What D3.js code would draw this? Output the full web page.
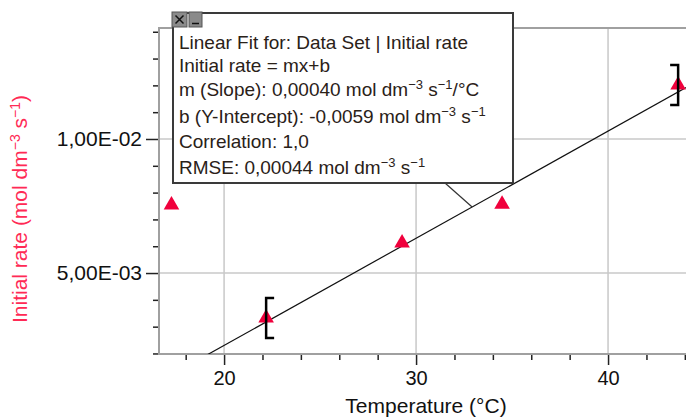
<!DOCTYPE html>
<html>
<head>
<meta charset="utf-8">
<script src="https://cdn.jsdelivr.net/npm/d3@7"></script>
<style>
	body { margin: 0; background: #fff; }
	svg { display: block; font-family: Arial, "Liberation Sans", sans-serif; }
</style>
</head>
<body>
<svg id="chart" width="686" height="419"></svg>
<script>
// values
var temperature = [17.26, 22.19, 29.27, 34.48, 43.65];
var initialRate = [0.00754, 0.00332, 0.00612, 0.00757, 0.01201];
var fitRange = [22.19, 43.65];
var leaderTemp = 32.92;

var xTicks = [20, 30, 40];
var xTickLabels = ["20", "30", "40"];
var xMinor = [18, 22, 24, 26, 28, 32, 34, 36, 38, 42, 44];
var yTicks = [0.005, 0.01];
var yTickLabels = ["5,00E-03", "1,00E-02"];
var yMinor = [0.002, 0.003, 0.004, 0.006, 0.007, 0.008, 0.009, 0.011, 0.012, 0.013, 0.014];

// lines of the fit box : [text, superscript?]
var fitText = [
	[["Linear Fit for: Data Set | Initial rate", 0]],
	[["Initial rate = mx+b", 0]],
	[["m (Slope): 0,00040 mol dm", 0], ["\u22123", 1], [" s", 0], ["\u22121", 1], ["/°C", 0]],
	[["b (Y-Intercept): -0,0059 mol dm", 0], ["\u22123", 1], [" s", 0], ["\u22121", 1]],
	[["Correlation: 1,0", 0]],
	[["RMSE: 0,00044 mol dm", 0], ["\u22123", 1], [" s", 0], ["\u22121", 1]]
];
var fitBaselines = [49, 72, 96, 123, 148, 174];

var red = "#f0003c";
var svg = d3.select("#chart");

var pLeft = 159, pRight = 686, pTop = 28, pBottom = 354;

var x = d3.scaleLinear().domain([16.61, 44.06]).range([pLeft, pRight]);
var y = d3.scaleLinear().domain([0.00198, 0.01414]).range([pBottom, pTop]);

// clip for marks
svg.append("clipPath").attr("id", "plot")
	.append("rect")
		.attr("x", pLeft).attr("y", pTop)
		.attr("width", pRight - pLeft).attr("height", pBottom - pTop);

// grid
svg.append("g").selectAll("line")
	.data(xTicks).enter().append("line")
		.attr("x1", function(d) { return x(d); })
		.attr("x2", function(d) { return x(d); })
		.attr("y1", pTop).attr("y2", pBottom)
		.attr("stroke", "#c8c8c8").attr("stroke-width", 1.5);
svg.append("g").selectAll("line")
	.data(yTicks).enter().append("line")
		.attr("x1", pLeft).attr("x2", pRight)
		.attr("y1", function(d) { return y(d); })
		.attr("y2", function(d) { return y(d); })
		.attr("stroke", "#c8c8c8").attr("stroke-width", 1.5);

// axes
svg.append("g")
	.attr("transform", "translate(" + pLeft + ",0)")
	.call(d3.axisLeft(y).tickValues(yMinor).tickSize(6).tickFormat(""));
var yAxis = svg.append("g")
	.attr("transform", "translate(" + pLeft + ",0)")
	.call(d3.axisLeft(y).tickValues(yTicks).tickSize(13).tickPadding(4)
		.tickFormat(function(d, i) { return yTickLabels[i]; }));
svg.append("g")
	.attr("transform", "translate(0," + pBottom + ")")
	.call(d3.axisBottom(x).tickValues(xMinor).tickSize(6).tickFormat(""));
var xAxis = svg.append("g")
	.attr("transform", "translate(0," + pBottom + ")")
	.call(d3.axisBottom(x).tickValues(xTicks).tickSize(11).tickPadding(6)
		.tickFormat(function(d, i) { return xTickLabels[i]; }));

svg.selectAll(".domain").remove();
svg.selectAll(".tick line").attr("stroke", "#222").attr("stroke-width", 1.5);
yAxis.selectAll("text").attr("font-size", 21).attr("fill", "#111").attr("font-family", "Arial, 'Liberation Sans', sans-serif");
xAxis.selectAll("text").attr("font-size", 20).attr("fill", "#111").attr("font-family", "Arial, 'Liberation Sans', sans-serif");

// frame
svg.append("path")
	.attr("d", "M" + pRight + "," + pTop + "H" + pLeft + "V" + pBottom + "H" + pRight)
	.attr("fill", "none").attr("stroke", "#a0a0a0").attr("stroke-width", 2);

// linear fit over the bracketed range
var inRange = d3.range(temperature.length).filter(function(i) {
	return temperature[i] >= fitRange[0] && temperature[i] <= fitRange[1];
});
var mx = d3.mean(inRange, function(i) { return temperature[i]; }),
	my = d3.mean(inRange, function(i) { return initialRate[i]; });
var sxy = d3.sum(inRange, function(i) { return (temperature[i] - mx) * (initialRate[i] - my); }),
	sxx = d3.sum(inRange, function(i) { return (temperature[i] - mx) * (temperature[i] - mx); });
var m = sxy / sxx, b = my - m * mx;
var fit = function(t) { return m * t + b; };

svg.append("line")
	.attr("clip-path", "url(#plot)")
	.attr("x1", x(x.domain()[0])).attr("y1", y(fit(x.domain()[0])))
	.attr("x2", x(x.domain()[1])).attr("y2", y(fit(x.domain()[1])))
	.attr("stroke", "#111").attr("stroke-width", 1.2);

// points
svg.append("g").attr("clip-path", "url(#plot)").selectAll("path")
	.data(temperature).enter().append("path")
		.attr("transform", function(d, i) { return "translate(" + x(d) + "," + y(initialRate[i]) + ")"; })
		.attr("d", d3.symbol().type(d3.symbolTriangle).size(105))
		.attr("fill", red);

// range brackets
fitRange.forEach(function(t, k) {
	var i = temperature.indexOf(t);
	var cx = x(t), cy = y(initialRate[i]), dir = k == 0 ? 1 : -1;
	svg.append("path")
		.attr("d", "M" + (cx + dir * 8) + "," + (cy - 20) + "H" + cx + "V" + (cy + 20) + "H" + (cx + dir * 8))
		.attr("fill", "none").attr("stroke", "#000").attr("stroke-width", 2.5);
});

// axis titles
svg.append("text")
	.attr("x", 426).attr("y", 413)
	.attr("text-anchor", "middle")
	.attr("font-size", 21).attr("fill", "#111")
	.text("Temperature (°C)");

var yTitle = svg.append("text")
	.attr("transform", "translate(27,209) rotate(-90)")
	.attr("text-anchor", "middle")
	.attr("font-size", 21).attr("fill", "#ff2a55");
yTitle.append("tspan").text("Initial rate (mol dm");
yTitle.append("tspan").attr("dy", -7).attr("font-size", 14).text("\u22123");
yTitle.append("tspan").attr("dy", 7).text(" s");
yTitle.append("tspan").attr("dy", -7).attr("font-size", 14).text("\u22121");
yTitle.append("tspan").attr("dy", 7).text(")");

// fit box + leader
svg.append("line")
	.attr("x1", 445).attr("y1", 183)
	.attr("x2", x(leaderTemp)).attr("y2", y(fit(leaderTemp)))
	.attr("stroke", "#333").attr("stroke-width", 1.2);

svg.append("rect")
	.attr("x", 173).attr("y", 13).attr("width", 340).attr("height", 170)
	.attr("fill", "#fff").attr("stroke", "#3a3a3a").attr("stroke-width", 2);

// little close / minimise buttons
svg.append("rect").attr("x", 172).attr("y", 12).attr("width", 15).attr("height", 15)
	.attr("fill", "#8a8a8a").attr("stroke", "#555");
svg.append("path").attr("d", "M175.5,15.5L183.5,23.5M183.5,15.5L175.5,23.5")
	.attr("stroke", "#111").attr("stroke-width", 1.5);
svg.append("rect").attr("x", 189).attr("y", 12).attr("width", 13).attr("height", 15)
	.attr("fill", "#8a8a8a").attr("stroke", "#555");
svg.append("line").attr("x1", 192).attr("x2", 199).attr("y1", 23.5).attr("y2", 23.5)
	.attr("stroke", "#111").attr("stroke-width", 1.5);

fitText.forEach(function(line, k) {
	var t = svg.append("text")
		.attr("x", 179).attr("y", fitBaselines[k])
		.attr("font-size", 19).attr("fill", "#2a2118");
	var prev = 0;
	line.forEach(function(seg) {
		var s = t.append("tspan").text(seg[0]);
		if (seg[1]) s.attr("dy", prev ? 0 : -7).attr("font-size", 13);
		else s.attr("dy", prev ? 7 : 0);
		prev = seg[1];
	});
});
</script>
</body>
</html>
